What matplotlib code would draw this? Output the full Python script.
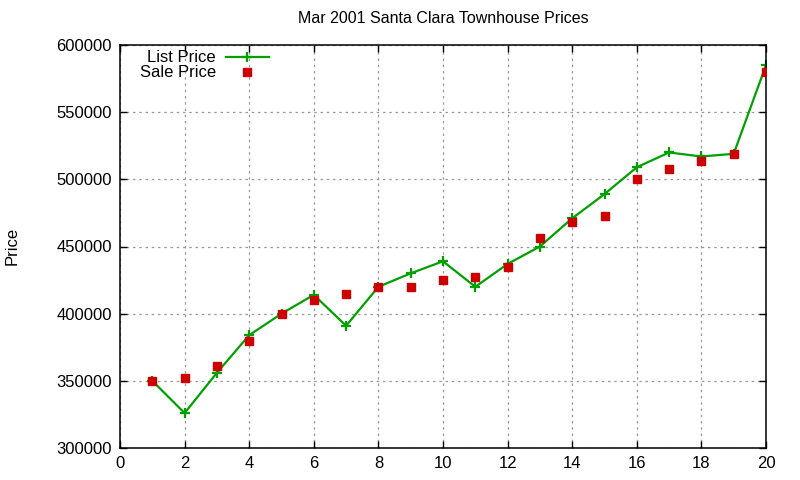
import matplotlib
matplotlib.use("Agg")
import matplotlib.pyplot as plt

months = list(range(1, 21))
list_price = [350000, 326000, 356000, 384000, 400000, 414000, 391000, 420000, 430000, 439000,
              420000, 437000, 450000, 471000, 489000, 509000, 520000, 517000, 519000, 585000]
sale_price = [350000, 352000, 361000, 380000, 400000, 410000, 415000, 420000, 420000, 425000,
              427000, 435000, 456000, 468000, 473000, 500000, 508000, 514000, 519000, 580000]
x_ticks = list(range(0, 21, 2))
y_ticks = list(range(300000, 600001, 50000))

plt.rcParams['font.family'] = ['Liberation Sans', 'DejaVu Sans']
plt.rcParams['font.size'] = 12

fig = plt.figure(figsize=(8, 4.8), dpi=100)
ax = fig.add_axes([0.15, 1 - 448 / 480, (766 - 120) / 800, (448 - 45) / 480])

ax.plot(months, list_price, color='#00a000', linewidth=1.6, marker='+', markersize=7,
        markeredgewidth=1.6, label='List Price')
ax.plot(months, sale_price, linestyle='none', color='#cc0000', marker='s', markersize=6,
        label='Sale Price', zorder=3)

ax.set_xlim(0, 20)
ax.set_ylim(300000, 600000)
ax.set_xticks(x_ticks)
ax.set_yticks(y_ticks)
ax.set_xticklabels([str(v) for v in x_ticks])
ax.set_yticklabels([str(v) for v in y_ticks])
ax.tick_params(direction='in', top=True, right=True, length=5, width=1, labelsize=12, pad=6)
ax.grid(True, linestyle=(0, (2, 3)), color='#999999', linewidth=0.9)
for s in ax.spines.values():
    s.set_linewidth(1.1)

ax.set_title('Mar 2001 Santa Clara Townhouse Prices', fontsize=11.5, pad=16)
fig.text(12 / 800, 1 - 246 / 480, 'Price', rotation=90, ha='center', va='center', fontsize=12)

ax.legend(loc='upper left', bbox_to_anchor=(0.02, 1.003), frameon=False, markerfirst=False,
          numpoints=1, handlelength=2.6, handletextpad=0.6, labelspacing=0.0,
          borderaxespad=0.0, fontsize=12)

fig.savefig('out.png', dpi=100)
